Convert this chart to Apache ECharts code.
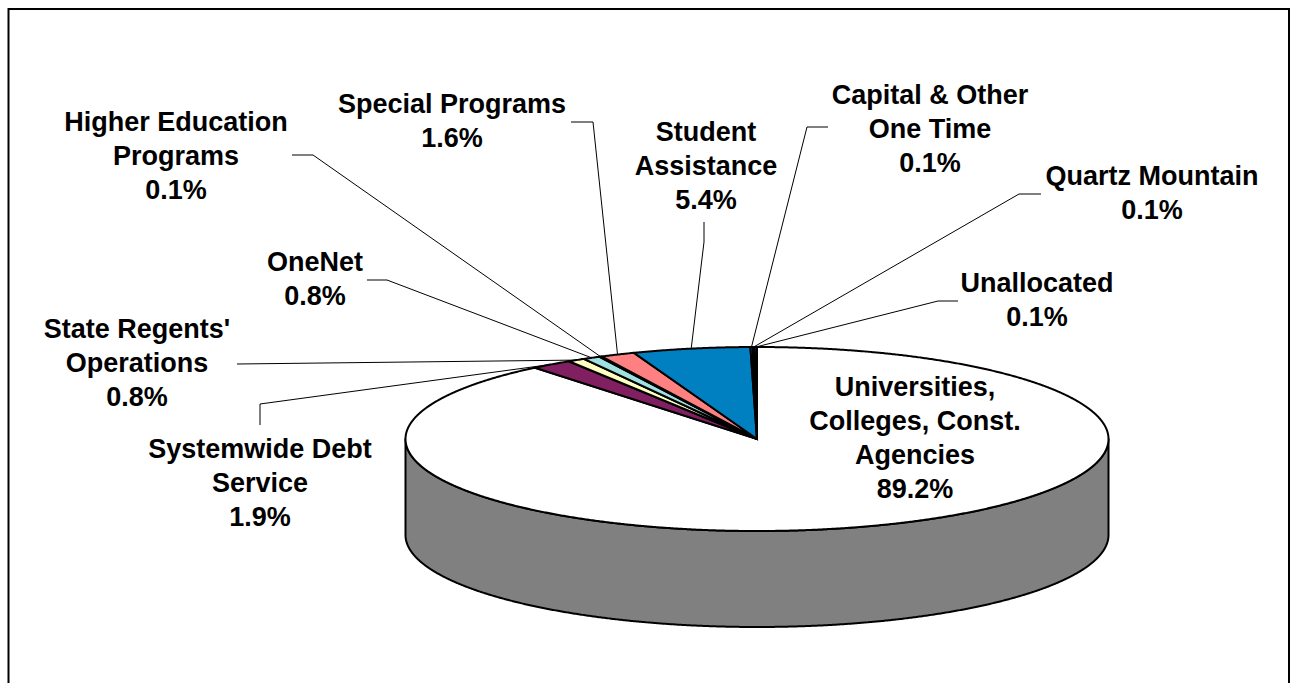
<!DOCTYPE html>
<html>
<head>
<meta charset="utf-8">
<script src="https://cdn.jsdelivr.net/npm/echarts@6/dist/echarts.min.js"></script>
<style>
html,body{margin:0;padding:0;background:#fff;}
#chart{width:1293px;height:683px;}
</style>
</head>
<body>
<div id="chart"></div>
<script>
// ---- data ----
const categories = [
  "Universities,\nColleges, Const.\nAgencies",
  "Systemwide Debt\nService",
  "State Regents'\nOperations",
  "OneNet",
  "Higher Education\nPrograms",
  "Special Programs",
  "Student\nAssistance",
  "Capital & Other\nOne Time",
  "Quartz Mountain",
  "Unallocated"
];
const values = [89.2, 1.9, 0.8, 0.8, 0.1, 1.6, 5.4, 0.1, 0.1, 0.1];
const colors = ["#FFFFFF", "#802060", "#FFFFC0", "#A0E0E0", "#600060", "#FF8080", "#0080C0", "#C0C0F0", "#000080", "#FF00FF"];

// ---- layout (not data) ----
const pie = { cx: 757, cy: 439, rx: 351.5, ry: 92, depth: 96 };
const labelPos = [
  { x: 915, y: 370, line: null },
  { x: 260, y: 432, line: [[260, 425], [260, 404]] },
  { x: 137, y: 312, line: [[237, 364]] },
  { x: 315, y: 245, line: [[367, 280], [387, 280]] },
  { x: 176, y: 105, line: [[292, 155], [313, 155]] },
  { x: 452, y: 87,  line: [[571, 122], [593, 122]] },
  { x: 706, y: 115, line: [[704, 222], [704, 242]] },
  { x: 930, y: 78,  line: [[828, 127], [807, 127]] },
  { x: 1152, y: 159, line: [[1041, 194], [1019, 194]] },
  { x: 1037, y: 266, line: [[958, 301], [938, 301]] }
];
const FONT = 'bold 27px "Liberation Sans", Arial, Helvetica, sans-serif';

// ---- geometry from values ----
const total = values.reduce((a, b) => a + b, 0);
let acc = 0;
const slices = values.map(v => {
  const s = acc / total * 360; acc += v; const e = acc / total * 360;
  return { start: s, end: e, mid: (s + e) / 2 };
});
function rim(theta, dy) {
  const r = theta * Math.PI / 180;
  return [pie.cx + pie.rx * Math.sin(r), pie.cy - pie.ry * Math.cos(r) + (dy || 0)];
}
function arcPts(a, b, dy) {
  const pts = [];
  const n = Math.max(2, Math.ceil((b - a) / 0.25));
  for (let k = 0; k <= n; k++) pts.push(rim(a + (b - a) * k / n, dy));
  return pts;
}
function shade(hex, f) {
  const n = parseInt(hex.slice(1), 16);
  const r = Math.round(((n >> 16) & 255) * f), g = Math.round(((n >> 8) & 255) * f), b = Math.round((n & 255) * f);
  return 'rgb(' + r + ',' + g + ',' + b + ')';
}

const seriesData = values.map((v, i) => ({ name: categories[i], value: v }));

const chart = echarts.init(document.getElementById('chart'), null, { renderer: 'svg' });
chart.setOption({
  animation: false,
  backgroundColor: '#fff',
  graphic: [{
    type: 'rect', z: 0,
    shape: { x: 8.5, y: 9, width: 1280.5, height: 720 },
    style: { fill: 'none', stroke: '#000', lineWidth: 2 }
  }],
  series: [
    { // side walls
      type: 'custom', coordinateSystem: 'none', z: 1, data: seriesData,
      renderItem: function (params) {
        const sl = slices[params.dataIndex];
        const a = Math.max(sl.start, 90), b = Math.min(sl.end, 270);
        if (b <= a) return { type: 'group', children: [] };
        const pts = arcPts(a, b, 0).concat(arcPts(a, b, pie.depth).reverse());
        return {
          type: 'polygon', shape: { points: pts },
          style: { fill: shade(colors[params.dataIndex], 0.502), stroke: '#000', lineWidth: 2, lineJoin: 'round' }
        };
      }
    },
    { // top faces
      type: 'custom', coordinateSystem: 'none', z: 2, data: seriesData,
      renderItem: function (params) {
        const sl = slices[params.dataIndex];
        const pts = [[pie.cx, pie.cy]].concat(arcPts(sl.start, sl.end, 0));
        return {
          type: 'polygon', shape: { points: pts },
          style: { fill: colors[params.dataIndex], stroke: '#000', lineWidth: 2, lineJoin: 'miter' }
        };
      }
    },
    { // labels and leader lines
      type: 'custom', coordinateSystem: 'none', z: 3, data: seriesData,
      renderItem: function (params) {
        const i = params.dataIndex;
        const lp = labelPos[i];
        const children = [{
          type: 'text',
          style: {
            text: categories[i] + '\n' + values[i].toFixed(1) + '%',
            x: lp.x, y: lp.y, align: 'center', verticalAlign: 'top',
            font: FONT, lineHeight: 34, fill: '#000'
          }
        }];
        if (lp.line) {
          const pts = lp.line.concat([rim(slices[i].mid, 0)]);
          children.push({
            type: 'polyline', shape: { points: pts },
            style: { stroke: '#000', lineWidth: 1, fill: 'none' }
          });
        }
        return { type: 'group', children: children };
      }
    }
  ]
});
</script>
</body>
</html>
